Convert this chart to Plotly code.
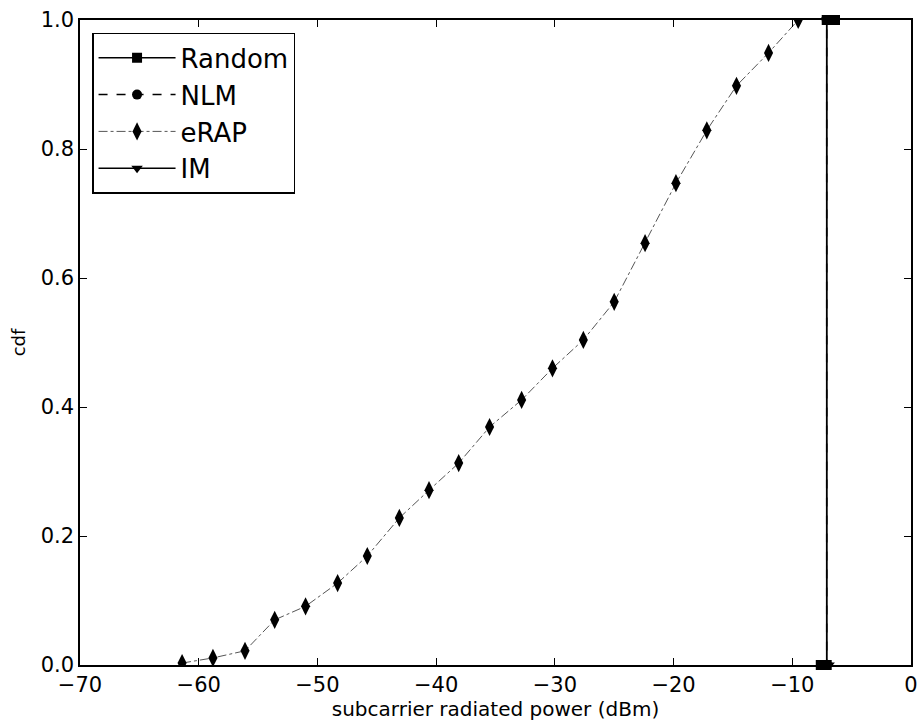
import plotly.graph_objects as go

# eRAP series
erap_x = [-61.4, -58.8, -56.1, -53.6, -51.0, -48.3, -45.8, -43.1, -40.6, -38.1, -35.5,
          -32.8, -30.2, -27.6, -25.0, -22.4, -19.8, -17.2, -14.7, -12.0, -9.5]
erap_y = [0.003, 0.011, 0.022, 0.070, 0.091, 0.127, 0.169, 0.228, 0.271, 0.313, 0.369,
          0.411, 0.460, 0.504, 0.563, 0.654, 0.747, 0.829, 0.898, 0.949, 1.0]

random_x = [-7.6, -7.1, -7.1, -6.4]
random_y = [0.0, 0.0, 1.0, 1.0]

nlm_x = [-7.4, -7.1, -7.1]
nlm_y = [0.0, 0.0, 1.0]

im_x = [-6.9, -7.1, -7.1]
im_y = [0.0, 0.0, 1.0]

x_ticks = [-70, -60, -50, -40, -30, -20, -10, 0]
x_labels = ["\u221270", "\u221260", "\u221250", "\u221240", "\u221230", "\u221220", "\u221210", "0"]
y_ticks = [0.0, 0.2, 0.4, 0.6, 0.8, 1.0]
y_labels = ["0.0", "0.2", "0.4", "0.6", "0.8", "1.0"]

fig = go.Figure()
fig.add_trace(go.Scatter(x=random_x, y=random_y, name="Random", mode="lines+markers",
                         legendgroup="a",
                         line=dict(color="black", width=1.5),
                         marker=dict(symbol="square", size=10, color="black"),
                         cliponaxis=False))
fig.add_trace(go.Scatter(x=nlm_x, y=nlm_y, name="NLM", mode="lines+markers",
                         legendgroup="b",
                         line=dict(color="black", width=1.5, dash="dash"),
                         marker=dict(symbol="circle", size=10, color="black"),
                         cliponaxis=False))
fig.add_trace(go.Scatter(x=erap_x, y=erap_y, name="eRAP", mode="lines+markers",
                         legendgroup="c",
                         line=dict(color="#555555", width=1, dash="dashdot"),
                         marker=dict(symbol="diamond-tall", size=13, color="black"),
                         cliponaxis=True))
fig.add_trace(go.Scatter(x=im_x, y=im_y, name="IM", mode="lines+markers",
                         legendgroup="d",
                         line=dict(color="black", width=1.5),
                         marker=dict(symbol="triangle-down", size=10, color="black"),
                         cliponaxis=False))

axis_common = dict(showline=True, linecolor="black", linewidth=1.5, mirror="ticks",
                   ticks="inside", ticklen=7, tickwidth=1, tickcolor="black",
                   showgrid=False, zeroline=False, automargin=False,
                   ticklabeloverflow="allow",
                   tickfont=dict(family="DejaVu Sans", size=21, color="black"))

fig.update_xaxes(range=[-70, 0], tickvals=x_ticks, ticktext=x_labels,
                 title=dict(text="subcarrier radiated power (dBm)", standoff=2,
                            font=dict(family="DejaVu Sans", size=20, color="black")),
                 **axis_common)
fig.update_yaxes(range=[0, 1], tickvals=y_ticks, ticktext=y_labels,
                 title=dict(text="cdf", standoff=10,
                            font=dict(family="DejaVu Sans", size=18, color="black")),
                 **axis_common)

fig.update_layout(
    width=917, height=721,
    margin=dict(l=80, r=6, t=20, b=56),
    plot_bgcolor="white", paper_bgcolor="white",
    showlegend=True,
    legend=dict(x=0.0145, y=0.98, xanchor="left", yanchor="top",
                bgcolor="white", bordercolor="black", borderwidth=1.5,
                font=dict(family="DejaVu Sans", size=26, color="black"),
                itemwidth=77, tracegroupgap=0),
)

fig.write_html("out.html", config={"displayModeBar": False},
               post_script="document.body.style.margin='0';document.body.style.overflow='hidden';")
